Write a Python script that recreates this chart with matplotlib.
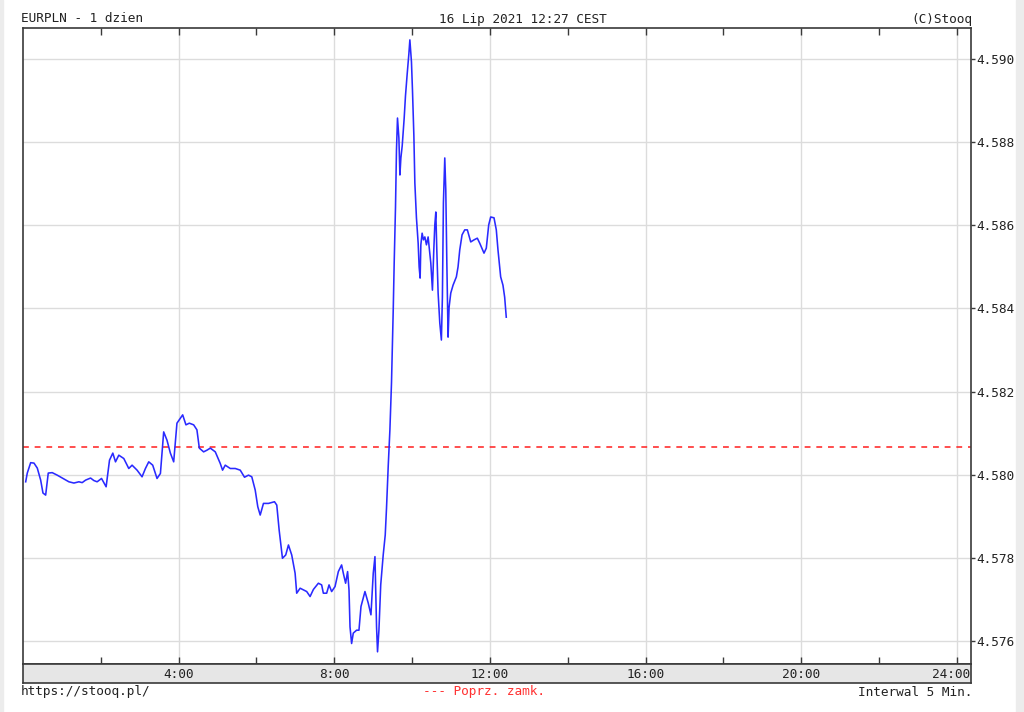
import numpy as np
import matplotlib.pyplot as plt
from matplotlib.patches import Rectangle

# EURPLN intraday, 16 Jul 2021 (hours since midnight, price)
hours = [
    0.069, 0.110, 0.197, 0.282, 0.367, 0.454, 0.513, 0.582, 0.649, 0.751,
    0.879, 1.008, 1.179, 1.308, 1.436, 1.521, 1.608, 1.736, 1.821, 1.905,
    2.018, 2.136, 2.223, 2.308, 2.377, 2.462, 2.590, 2.718, 2.803, 2.931,
    3.059, 3.146, 3.231, 3.333, 3.444, 3.531, 3.615, 3.700, 3.787, 3.872,
    3.956, 4.044, 4.103, 4.187, 4.274, 4.385, 4.469, 4.531, 4.641, 4.726,
    4.813, 4.941, 5.069, 5.128, 5.197, 5.326, 5.454, 5.582, 5.692, 5.795,
    5.879, 5.967, 6.033, 6.095, 6.179, 6.308, 6.462, 6.521, 6.582, 6.667,
    6.751, 6.821, 6.905, 6.992, 7.033, 7.121, 7.205, 7.290, 7.377, 7.462,
    7.590, 7.674, 7.718, 7.803, 7.864, 7.931, 8.018, 8.103, 8.187, 8.231,
    8.290, 8.341, 8.377, 8.403, 8.444, 8.487, 8.572, 8.633, 8.685, 8.787,
    8.872, 8.941, 9.000, 9.044, 9.085, 9.110, 9.146, 9.192, 9.256, 9.308,
    9.341, 9.385, 9.428, 9.469, 9.513, 9.538, 9.572, 9.597, 9.623, 9.659,
    9.685, 9.710, 9.744, 9.795, 9.828, 9.872, 9.915, 9.941, 9.982, 10.008,
    10.044, 10.069, 10.110, 10.154, 10.179, 10.205, 10.223, 10.256, 10.290, 10.326,
    10.367, 10.410, 10.444, 10.479, 10.505, 10.521, 10.556, 10.582, 10.608, 10.633,
    10.667, 10.710, 10.751, 10.777, 10.803, 10.838, 10.864, 10.890, 10.923, 10.949,
    10.992, 11.051, 11.136, 11.179, 11.223, 11.282, 11.351, 11.418, 11.505, 11.590,
    11.674, 11.736, 11.846, 11.905, 11.967, 12.018, 12.103, 12.162, 12.205, 12.274,
    12.333, 12.377, 12.418,
]
prices = [
    4.57983, 4.58004, 4.58029, 4.58028, 4.58016, 4.57987, 4.57956, 4.57951, 4.58004, 4.58005,
    4.57999, 4.57992, 4.57983, 4.57980, 4.57983, 4.57981, 4.57987, 4.57992, 4.57986, 4.57983,
    4.57991, 4.57971, 4.58035, 4.58052, 4.58031, 4.58047, 4.58039, 4.58015, 4.58023, 4.58011,
    4.57995, 4.58015, 4.58031, 4.58023, 4.57991, 4.58003, 4.58103, 4.58083, 4.58052, 4.58031,
    4.58124, 4.58136, 4.58144, 4.58120, 4.58124, 4.58120, 4.58108, 4.58064, 4.58055, 4.58059,
    4.58064, 4.58055, 4.58027, 4.58011, 4.58023, 4.58015, 4.58015, 4.58011, 4.57994, 4.57999,
    4.57995, 4.57963, 4.57923, 4.57903, 4.57931, 4.57931, 4.57935, 4.57927, 4.57867, 4.57799,
    4.57807, 4.57831, 4.57807, 4.57763, 4.57715, 4.57727, 4.57723, 4.57719, 4.57707, 4.57724,
    4.57739, 4.57735, 4.57715, 4.57715, 4.57735, 4.57719, 4.57731, 4.57767, 4.57783, 4.57763,
    4.57739, 4.57767, 4.57723, 4.57634, 4.57594, 4.57619, 4.57626, 4.57626, 4.57683, 4.57719,
    4.57691, 4.57663, 4.57763, 4.57803, 4.57634, 4.57574, 4.57626, 4.57735, 4.57807, 4.57855,
    4.57920, 4.58021, 4.58108, 4.58221, 4.58394, 4.58509, 4.58644, 4.58781, 4.58858, 4.58810,
    4.58721, 4.58762, 4.58791, 4.58858, 4.58911, 4.58964, 4.59012, 4.59046, 4.58993, 4.58925,
    4.58815, 4.58702, 4.58618, 4.58557, 4.58500, 4.58473, 4.58553, 4.58581, 4.58565, 4.58572,
    4.58553, 4.58572, 4.58541, 4.58509, 4.58468, 4.58444, 4.58541, 4.58601, 4.58632, 4.58541,
    4.58437, 4.58365, 4.58324, 4.58427, 4.58654, 4.58762, 4.58685, 4.58516, 4.58331, 4.58403,
    4.58437, 4.58456, 4.58476, 4.58500, 4.58541, 4.58577, 4.58589, 4.58589, 4.58560, 4.58565,
    4.58569, 4.58557, 4.58533, 4.58545, 4.58601, 4.58620, 4.58618, 4.58589, 4.58541, 4.58476,
    4.58456, 4.58427, 4.58379,
]
prev_close = 4.58067

y_ticks = [4.576, 4.578, 4.580, 4.582, 4.584, 4.586, 4.588, 4.590]
x_label_hours = [4, 8, 12, 16, 20, 24]

W, H = 1024, 712
mono = 'DejaVu Sans Mono'
fs = 9.2
dark = '#3a3a3a'
red = '#ff3030'

fig = plt.figure(figsize=(W / 100, H / 100), dpi=100)
fig.patch.set_facecolor('white')

# thin grey frame at the image edges
fig.patches.append(Rectangle((0, 0), 3 / W, 1, transform=fig.transFigure,
                             color='#ececec', zorder=0))
fig.patches.append(Rectangle((1016 / W, 0), 8 / W, 1, transform=fig.transFigure,
                             color='#ececec', zorder=0))

left, right, top, bottom = 23, 971, 28, 664
ax = fig.add_axes([left / W, (H - bottom) / H, (right - left) / W, (bottom - top) / H])

ax.plot(hours, prices, color='#2a2aff', lw=1.15, zorder=3)
ax.axhline(prev_close, color=red, lw=1.2, dashes=(3.5, 3.5), zorder=2)

ax.set_xlim(0, 24.36)
ax.set_ylim(4.575447, 4.590746)

ax.set_xticks([4, 8, 12, 16, 20, 24])
ax.set_xticks([2, 6, 10, 14, 18, 22], minor=True)
ax.tick_params(axis='x', which='both', direction='in', top=True, bottom=True,
               length=5, width=1, color=dark, labelbottom=False)
ax.grid(axis='x', which='major', color='#dcdcdc', lw=1)

ax.yaxis.tick_right()
ax.set_yticks(y_ticks)
ax.set_yticklabels(['%.3f' % v for v in y_ticks], family=mono, fontsize=fs, color='#222222')
ax.tick_params(axis='y', direction='out', length=3, width=1, color=dark, pad=0.5)
ax.grid(axis='y', color='#dcdcdc', lw=1)
ax.set_axisbelow(True)
for s in ax.spines.values():
    s.set_color(dark)
    s.set_linewidth(1.2)

# grey strip with the hour labels
strip = fig.add_axes([left / W, (H - 683) / H, (right - left) / W, (683 - bottom) / H])
strip.set_facecolor('#e6e6e6')
strip.set_xlim(0, 24.36)
strip.set_ylim(0, 1)
strip.set_xticks([])
strip.set_yticks([])
for s in strip.spines.values():
    s.set_color(dark)
    s.set_linewidth(1.2)
for hr in x_label_hours:
    ha = 'right' if hr == 24 else 'center'
    xpos = 24.34 if hr == 24 else hr
    strip.text(xpos, 0.45, '%d:00' % hr, ha=ha, va='center', family=mono,
               fontsize=fs, color='#222222')

# header and footer texts
def ftext(x, y, s, ha, color='#222222'):
    fig.text(x / W, 1 - y / H, s, ha=ha, va='center', family=mono, fontsize=fs, color=color)

ftext(21, 19, 'EURPLN - 1 dzien', 'left')
ftext(523, 19, '16 Lip 2021 12:27 CEST', 'center')
ftext(972, 19, '(C)Stooq', 'right')
ftext(21, 692, 'https://stooq.pl/', 'left')
ftext(484, 692, '--- Poprz. zamk.', 'center', color=red)
ftext(972, 692, 'Interwal 5 Min.', 'right')

fig.savefig('out.png', dpi=100)
